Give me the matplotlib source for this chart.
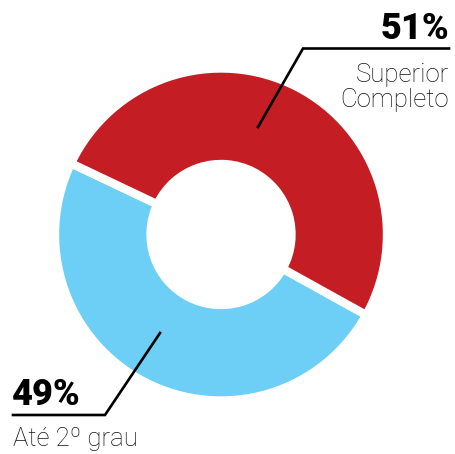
import matplotlib
matplotlib.use("Agg")
import matplotlib.pyplot as plt

categories = ["Até 2º grau", "Superior\nCompleto"]
values = [49, 51]
pct_labels = ["49%", "51%"]
colors = ["#6DCFF6", "#C41E24"]

W, H = 455, 454
fig = plt.figure(figsize=(W / 100, H / 100), dpi=100)
ax = fig.add_axes([0, 0, 1, 1])

cx, cy = 221, H - 234.5
R = 166
ax.pie(values, colors=colors, startangle=154.6, counterclock=True,
       center=(cx, cy), radius=R, frame=True,
       wedgeprops=dict(width=95.5, edgecolor="white", linewidth=6))
ax.set_xlim(0, W)
ax.set_ylim(0, H)
ax.axis("off")

# leader lines
ax.plot([258, 303, 449], [H - 127, H - 48.5, H - 48.5], color="black", lw=1.9,
        solid_joinstyle="miter")
ax.plot([160, 105, 13], [H - 333, H - 415, H - 415], color="black", lw=1.9,
        solid_joinstyle="miter")

pct_kw = dict(fontsize=26, fontweight=900, family="Roboto", color="black")
lab_kw = dict(fontsize=18.5, fontweight="light", family="Roboto", color="#111111")

# texts
ax.text(449, H - 39, pct_labels[1], ha="right", va="baseline", **pct_kw)
ax.text(449, H - 82, categories[1].split("\n")[0], ha="right", va="baseline", **lab_kw)
ax.text(449, H - 107.5, categories[1].split("\n")[1], ha="right", va="baseline", **lab_kw)

ax.text(12, H - 405, pct_labels[0], ha="left", va="baseline", **pct_kw)
ax.text(13, H - 446, categories[0], ha="left", va="baseline", **lab_kw)

fig.savefig("out.png", dpi=100)
